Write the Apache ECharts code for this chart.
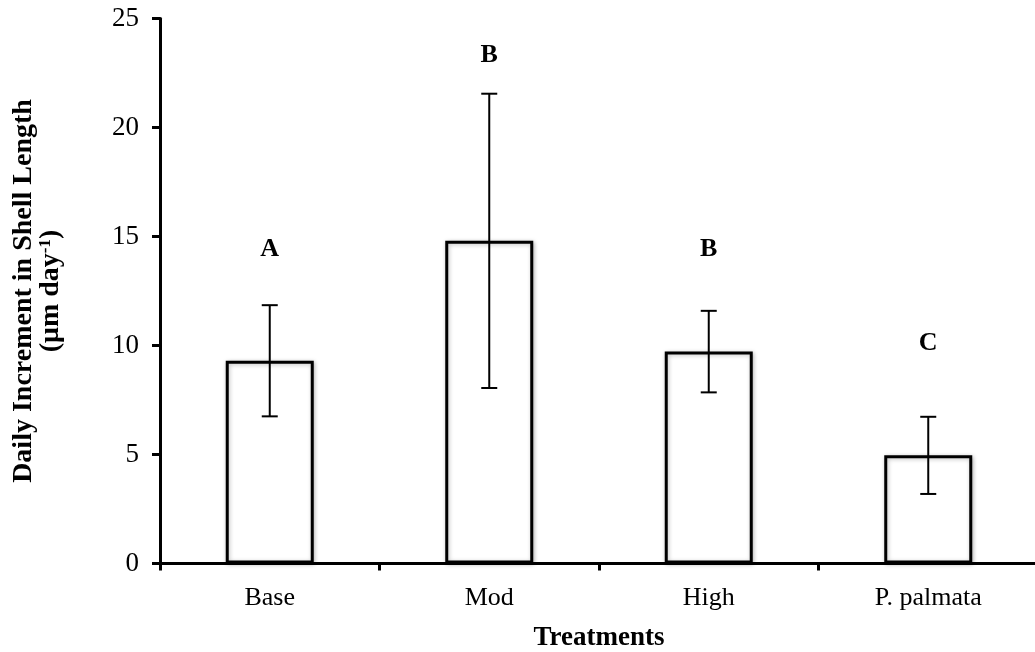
<!DOCTYPE html>
<html>
<head>
<meta charset="utf-8">
<script src="https://cdn.jsdelivr.net/npm/echarts@6/dist/echarts.min.js"></script>
<style>html,body{margin:0;padding:0;background:#fff}#c{width:1035px;height:652px}</style>
</head>
<body>
<div id="c"></div>
<script>
const categories = ['Base', 'Mod', 'High', 'P. palmata'];
const means = [9.3, 14.8, 9.72, 4.96];
const errors = [2.55, 6.75, 1.87, 1.77];
const letters = ['A', 'B', 'B', 'C'];
const letterY = [14.4, 23.3, 14.4, 10.1];
const yTicks = [0, 5, 10, 15, 20, 25];

const font = '"Liberation Serif", "Times New Roman", serif';
const chart = echarts.init(document.getElementById('c'), null, {renderer: 'canvas'});

chart.setOption({
  animation: false,
  backgroundColor: '#fff',
  grid: {left: 160, top: 18.5, width: 878, height: 545, containLabel: false, outerBoundsMode: 'none'},
  xAxis: {
    type: 'category',
    data: categories,
    boundaryGap: true,
    axisLine: {lineStyle: {color: '#000', width: 3}},
    axisTick: {show: true, length: 7, lineStyle: {color: '#000', width: 3}},
    axisLabel: {color: '#000', fontFamily: font, fontSize: 26, margin: 22},
    name: 'Treatments',
    nameLocation: 'middle',
    nameGap: 61,
    nameTextStyle: {color: '#000', fontFamily: font, fontSize: 27, fontWeight: 'bold'}
  },
  yAxis: {
    type: 'value',
    min: yTicks[0],
    max: yTicks[yTicks.length - 1],
    interval: 5,
    splitLine: {show: false},
    axisLine: {show: true, lineStyle: {color: '#000', width: 3}},
    axisTick: {show: true, length: 8, lineStyle: {color: '#000', width: 3}},
    axisLabel: {color: '#000', fontFamily: font, fontSize: 27, margin: 21},
    name: '{b|Daily Increment in Shell Length}\n{b|(μm day}{s|-1}{b|)}',
    nameLocation: 'middle',
    nameRotate: 90,
    nameGap: 96,
    nameTextStyle: {
      color: '#000', fontFamily: font, fontSize: 28, fontWeight: 'bold', lineHeight: 27,
      rich: {
        b: {fontFamily: font, fontSize: 28, fontWeight: 'bold', color: '#000', lineHeight: 27},
        s: {fontFamily: font, fontSize: 17, fontWeight: 'bold', color: '#000', verticalAlign: 'top', padding: [0, 0, 10, 0], lineHeight: 27}
      }
    }
  },
  series: [
    {
      type: 'bar',
      data: means,
      barWidth: 88,
      itemStyle: {color: '#fff', borderColor: '#000', borderWidth: 3, shadowBlur: 4, shadowColor: 'rgba(0,0,0,0.25)', shadowOffsetX: 1, shadowOffsetY: 1}
    },
    {
      type: 'custom',
      data: means.map((m, i) => [i, m - errors[i], m + errors[i], letterY[i]]),
      renderItem: function (params, api) {
        const x = api.value(0);
        const lo = api.coord([x, api.value(1)]);
        const hi = api.coord([x, api.value(2)]);
        const lp = api.coord([x, api.value(3)]);
        const hw = 8;
        const st = {stroke: '#000', lineWidth: 2};
        return {
          type: 'group',
          children: [
            {type: 'line', shape: {x1: lo[0], y1: lo[1], x2: hi[0], y2: hi[1]}, style: st},
            {type: 'line', shape: {x1: lo[0] - hw, y1: lo[1], x2: lo[0] + hw, y2: lo[1]}, style: st},
            {type: 'line', shape: {x1: hi[0] - hw, y1: hi[1], x2: hi[0] + hw, y2: hi[1]}, style: st},
            {type: 'text', x: lp[0], y: lp[1], style: {
              text: letters[params.dataIndex], fill: '#000', align: 'center', verticalAlign: 'middle',
              font: 'bold 26px ' + font
            }}
          ]
        };
      },
      z: 5
    }
  ]
});
</script>
</body>
</html>
